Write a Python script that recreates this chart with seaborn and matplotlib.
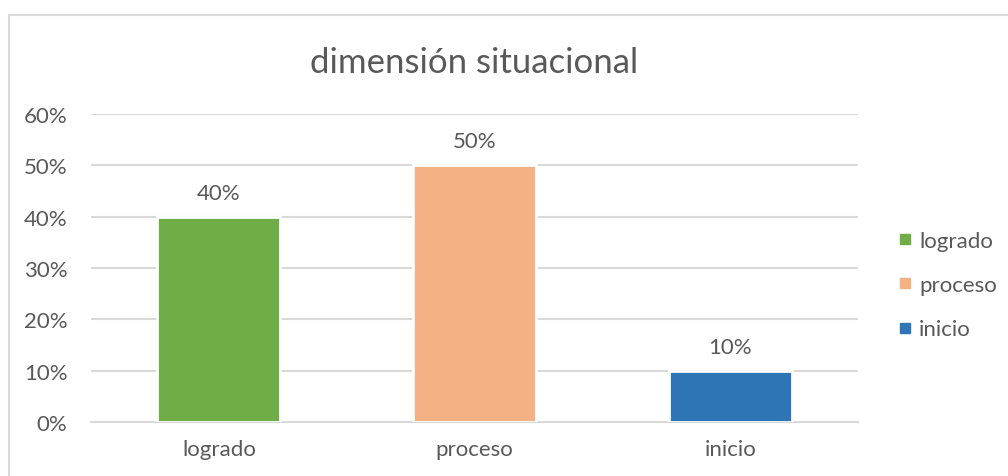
import pandas as pd
import seaborn as sns
from matplotlib import pyplot as plt
from matplotlib.patches import Rectangle
from matplotlib.ticker import PercentFormatter
from matplotlib.lines import Line2D

# datos
categorias = ["logrado", "proceso", "inicio"]
valores = [0.40, 0.50, 0.10]
colores = ["#70AD47", "#F4B183", "#2E75B6"]
titulo = "dimensión situacional"

df = pd.DataFrame({"cat": categorias, "val": valores})

sns.set_style("white")
plt.rcParams["font.family"] = ["Lato", "DejaVu Sans"]
gris = "#595959"
linea = "#D9D9D9"

fig = plt.figure(figsize=(10.08, 4.77), dpi=100)
# marco del gráfico
fig.patches.append(Rectangle((9 / 1008, -0.1), 1.2, 1 - 16 / 477 + 0.1,
                             transform=fig.transFigure, fill=False,
                             edgecolor=linea, linewidth=1.5))
ax = fig.add_axes([91 / 1008, 1 - 423 / 477, 767 / 1008, 308 / 477])

sns.barplot(data=df, x="cat", y="val", hue="cat", palette=colores,
            saturation=1, width=0.48, edgecolor="white", linewidth=2,
            legend=False, ax=ax, zorder=3)

ax.set_ylim(0, 0.6)
ax.set_xlim(-0.5, 2.5)
ax.set_yticks([i / 10 for i in range(7)])
ax.yaxis.set_major_formatter(PercentFormatter(1.0, decimals=0))
ax.grid(axis="y", color=linea, linewidth=1.5, zorder=0)
ax.set_axisbelow(True)
for s in ["top", "right", "left"]:
    ax.spines[s].set_visible(False)
ax.spines["bottom"].set_color(linea)
ax.spines["bottom"].set_linewidth(1.5)
ax.set_xlabel("")
ax.set_ylabel("")
ax.tick_params(axis="y", length=0, labelsize=16, labelcolor=gris, pad=17)
ax.tick_params(axis="x", which="major", length=0, labelsize=16,
               labelcolor=gris, pad=12)
ax.set_xticks([-0.5, 0.5, 1.5, 2.5], minor=True)
ax.tick_params(axis="x", which="minor", length=8, width=1.5, color=linea)

# etiquetas de datos
for i, v in enumerate(valores):
    ax.annotate(f"{v:.0%}", (i, v), xytext=(0, 10), textcoords="offset points",
                ha="center", va="bottom", fontsize=16, color=gris)

fig.suptitle(titulo, x=(91 + 858) / 2 / 1008, y=1 - 63 / 477, va="center",
             fontsize=25, color=gris)

handles = [Line2D([], [], marker="s", linestyle="", color=c, markersize=7)
           for c in colores]
fig.legend(handles, categorias, loc="center left",
           bbox_to_anchor=(898 / 1008, 1 - 286 / 477), frameon=False,
           borderpad=0, borderaxespad=0,
           fontsize=16, labelcolor=gris, handlelength=0.6, handletextpad=0.35,
           labelspacing=1.1)

fig.savefig("out.png", dpi=100)
